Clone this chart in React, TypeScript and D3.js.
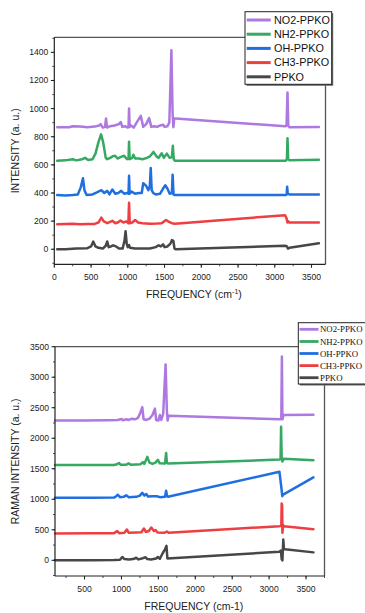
import React from "react";
import * as d3 from "d3";

type Pt = [number, number];

// ---------- Top chart (IR-like) data: [frequency, intensity] ----------
const TOP_NO2: Pt[] = [[40,868],[200,868],[250,875],[350,872],[450,868],[550,872],[610,880],[630,890],[660,865],[690,870],[704,930],[718,865],[760,875],[820,880],[880,890],[904,905],[925,870],[960,875],[1000,865],[1010,870],[1017,1000],[1025,870],[1045,880],[1080,865],[1120,900],[1177,948],[1210,870],[1250,890],[1290,932],[1320,870],[1360,875],[1400,870],[1440,880],[1484,885],[1500,870],[1540,875],[1565,900],[1593,1415],[1610,960],[1620,868],[1632,930],[1650,930],[3140,875],[3160,878],[3173,1115],[3183,880],[3200,868],[3600,870]];
const TOP_NH2: Pt[] = [[40,630],[150,632],[250,640],[300,632],[380,640],[420,650],[460,635],[520,640],[560,680],[600,760],[636,817],[665,760],[700,650],[720,640],[760,650],[800,662],[828,665],[860,645],[900,655],[950,665],[990,640],[1010,645],[1017,765],[1025,640],[1060,650],[1076,672],[1100,645],[1150,645],[1200,640],[1260,650],[1300,660],[1349,692],[1390,660],[1420,650],[1462,682],[1490,650],[1531,680],[1570,650],[1600,655],[1613,736],[1625,640],[1640,630],[3150,630],[3165,640],[3173,790],[3182,640],[3200,632],[3600,636]];
const TOP_OH: Pt[] = [[40,385],[150,383],[250,385],[320,390],[360,440],[390,505],[410,420],[440,385],[520,390],[580,405],[640,420],[680,400],[720,415],[750,390],[790,425],[830,395],[870,400],[910,415],[950,395],[990,400],[1010,395],[1017,522],[1025,395],[1050,410],[1100,395],[1150,400],[1190,400],[1210,470],[1250,450],[1280,420],[1300,450],[1312,578],[1325,420],[1345,400],[1380,390],[1440,395],[1490,440],[1510,455],[1540,430],[1570,395],[1600,400],[1610,530],[1622,390],[1640,385],[3150,385],[3162,390],[3168,445],[3176,395],[3200,390],[3600,390]];
const TOP_CH3: Pt[] = [[40,178],[150,180],[250,182],[350,178],[450,180],[550,180],[600,190],[640,225],[670,200],[720,185],[760,195],[790,202],[830,185],[870,192],[900,205],[940,190],[980,198],[1008,185],[1017,330],[1026,185],[1060,190],[1100,208],[1140,190],[1200,185],[1300,182],[1400,183],[1460,185],[1500,200],[1520,208],[1560,195],[1600,185],[1640,182],[3140,242],[3160,220],[3172,190],[3180,200],[3200,190],[3600,190]];
const TOP_PPKO: Pt[] = [[40,0],[150,0],[300,5],[450,8],[500,20],[530,55],[560,20],[600,10],[660,5],[700,25],[720,55],[740,15],[770,20],[800,28],[840,20],[880,5],[930,5],[955,60],[970,128],[985,40],[1000,15],[1017,30],[1030,10],[1100,5],[1200,5],[1300,5],[1380,15],[1420,28],[1450,20],[1480,35],[1500,15],[1540,20],[1580,40],[1600,65],[1620,60],[1635,5],[1650,0],[3140,25],[3165,20],[3180,5],[3200,10],[3600,42]];

// ---------- Bottom chart (Raman) data ----------
const BOT_NO2: Pt[] = [[100,2290],[500,2292],[800,2295],[950,2298],[1000,2315],[1020,2295],[1060,2310],[1100,2300],[1140,2320],[1180,2310],[1220,2330],[1250,2400],[1282,2510],[1300,2310],[1340,2300],[1380,2320],[1420,2380],[1453,2485],[1470,2300],[1500,2290],[1520,2380],[1540,2300],[1565,2400],[1598,3210],[1615,2450],[1625,2290],[1638,2370],[3150,2310],[3165,2320],[3173,3340],[3180,2310],[3195,2380],[3600,2385]];
const BOT_NH2: Pt[] = [[100,1560],[600,1562],[900,1562],[940,1575],[965,1595],[990,1565],[1060,1565],[1096,1588],[1130,1565],[1200,1570],[1260,1575],[1290,1610],[1310,1580],[1350,1695],[1380,1600],[1420,1580],[1460,1600],[1493,1645],[1520,1590],[1590,1585],[1605,1760],[1615,1600],[1630,1585],[3140,1650],[3155,1660],[3162,2190],[3170,1680],[3180,1620],[3195,1665],[3600,1640]];
const BOT_OH: Pt[] = [[100,1025],[600,1025],[900,1028],[930,1050],[951,1075],[980,1035],[1030,1040],[1065,1065],[1100,1035],[1200,1040],[1250,1060],[1282,1105],[1310,1060],[1336,1085],[1360,1045],[1420,1050],[1480,1050],[1520,1035],[1590,1040],[1605,1140],[1618,1050],[1630,1040],[3140,1450],[3165,1200],[3178,1050],[3190,1075],[3600,1360]];
const BOT_CH3: Pt[] = [[100,440],[600,442],[900,445],[943,478],[970,445],[1040,450],[1073,505],[1100,450],[1200,455],[1270,460],[1304,522],[1330,465],[1370,480],[1404,538],[1440,480],[1462,495],[1490,455],[1580,450],[1615,472],[1640,450],[3140,560],[3165,565],[3170,930],[3176,900],[3180,450],[3190,580],[3200,560],[3600,510]];
const BOT_PPKO: Pt[] = [[100,0],[600,2],[900,5],[980,10],[1011,55],[1040,20],[1100,15],[1160,20],[1200,42],[1230,15],[1290,35],[1327,50],[1350,20],[1400,15],[1470,30],[1493,55],[1520,25],[1560,120],[1590,180],[1610,238],[1622,30],[3140,140],[3160,160],[3170,20],[3180,0],[3192,340],[3200,200],[3215,180],[3600,130]];

const SERIES_NAMES = ["NO2-PPKO", "NH2-PPKO", "OH-PPKO", "CH3-PPKO", "PPKO"];
const SERIES_COLORS = ["#ad78e0", "#35a862", "#1f6fe0", "#ef3e42", "#474747"];
const TOP_DATA = [TOP_NO2, TOP_NH2, TOP_OH, TOP_CH3, TOP_PPKO];
const BOT_DATA = [BOT_NO2, BOT_NH2, BOT_OH, BOT_CH3, BOT_PPKO];

const TOP_X_TICKS = [0, 500, 1000, 1500, 2000, 2500, 3000, 3500];
const TOP_Y_TICKS = [0, 200, 400, 600, 800, 1000, 1200, 1400];
const BOT_X_TICKS = [500, 1000, 1500, 2000, 2500, 3000, 3500];
const BOT_Y_TICKS = [0, 500, 1000, 1500, 2000, 2500, 3000, 3500];

const SANS = "'Liberation Sans', Arial, sans-serif";
const SERIF = "'Liberation Serif', 'Times New Roman', serif";

interface PanelProps {
  data: Pt[][];
  xDomain: [number, number];
  yDomain: [number, number];
  left: number; right: number; top: number; bottom: number;
  xTicks: number[]; yTicks: number[];
  xMinorStep: number; yMinorStep: number;
  yTitle: string;
  xTitle: React.ReactNode;
}

function Panel(p: PanelProps) {
  const x = d3.scaleLinear().domain(p.xDomain).range([p.left, p.right]);
  const y = d3.scaleLinear().domain(p.yDomain).range([p.bottom, p.top]);
  const line = d3.line<Pt>().x(d => x(d[0])).y(d => y(d[1]));
  const xMinor = d3.range(Math.ceil(p.xDomain[0] / p.xMinorStep) * p.xMinorStep, p.xDomain[1] + 1, p.xMinorStep);
  const yMinor = d3.range(Math.ceil(p.yDomain[0] / p.yMinorStep) * p.yMinorStep, p.yDomain[1] + 1, p.yMinorStep);
  const cy = (p.top + p.bottom) / 2;
  const cx = (p.left + p.right) / 2;
  return (
    <g>
      <line x1={p.left} x2={p.right} y1={p.top} y2={p.top} stroke="#555" strokeWidth={1.3} />
      <line x1={p.right} x2={p.right} y1={p.top} y2={p.bottom} stroke="#555" strokeWidth={1.3} />
      {p.data.map((s, i) => (
        <path key={i} d={line(s) || ""} fill="none" stroke={SERIES_COLORS[i]} strokeWidth={2.5}
          strokeLinejoin="round" strokeLinecap="round" />
      ))}
      <line x1={p.left} x2={p.left} y1={p.top} y2={p.bottom} stroke="#222" strokeWidth={1.2} />
      <line x1={p.left} x2={p.right} y1={p.bottom} y2={p.bottom} stroke="#222" strokeWidth={1.2} />
      {xMinor.map(v => (
        <line key={"xm" + v} x1={x(v)} x2={x(v)} y1={p.bottom} y2={p.bottom + 2} stroke="#222" strokeWidth={0.8} />
      ))}
      {yMinor.map(v => (
        <line key={"ym" + v} x1={p.left - 2} x2={p.left} y1={y(v)} y2={y(v)} stroke="#222" strokeWidth={0.8} />
      ))}
      {p.xTicks.map(v => (
        <g key={"x" + v}>
          <line x1={x(v)} x2={x(v)} y1={p.bottom} y2={p.bottom + 3.5} stroke="#222" strokeWidth={1} />
          <text x={x(v)} y={p.bottom + 15.5} textAnchor="middle" fontSize={8.6} fontFamily={SANS} fill="#222">{v}</text>
        </g>
      ))}
      {p.yTicks.map(v => (
        <g key={"y" + v}>
          <line x1={p.left - 3.5} x2={p.left} y1={y(v)} y2={y(v)} stroke="#222" strokeWidth={1} />
          <text x={p.left - 6} y={y(v) + 3} textAnchor="end" fontSize={8.6} fontFamily={SANS} fill="#222">{v}</text>
        </g>
      ))}
      <text transform={`translate(${19},${cy}) rotate(-90)`} textAnchor="middle" fontSize={10.5} fontFamily={SANS} fill="#222">{p.yTitle}</text>
      <text x={cx + 4} y={p.bottom + 34} textAnchor="middle" fontSize={10.5} fontFamily={SANS} fill="#222">{p.xTitle}</text>
    </g>
  );
}

interface LegendProps { x: number; y: number; w: number; h: number; rowY: number[]; lineX: [number, number]; textX: number; fontSize: number; font: string; lineW: number; bold?: boolean }
function Legend(l: LegendProps) {
  return (
    <g>
      <rect x={l.x + 1.5} y={l.y + 1.5} width={l.w} height={l.h} fill="#666" />
      <rect x={l.x} y={l.y} width={l.w} height={l.h} fill="#fff" stroke="#222" strokeWidth={1} />
      {SERIES_NAMES.map((n, i) => (
        <g key={n}>
          <line x1={l.lineX[0]} x2={l.lineX[1]} y1={l.rowY[i]} y2={l.rowY[i]} stroke={SERIES_COLORS[i]} strokeWidth={l.lineW} />
          <text x={l.textX} y={l.rowY[i] + l.fontSize * 0.36} fontSize={l.fontSize} fontFamily={l.font} fill="#111"
            fontWeight={l.bold ? 600 : 400}>{n}</text>
        </g>
      ))}
    </g>
  );
}

export default function App() {
  return (
    <svg width={365} height={613} style={{ position: "absolute", left: 0, top: 0, background: "#fff" }}>
      <Panel data={TOP_DATA} xDomain={[0, 3690]} yDomain={[-107, 1507]} left={54.3} right={325.5} top={37.3} bottom={264.3}
        xTicks={TOP_X_TICKS} yTicks={TOP_Y_TICKS} xMinorStep={250} yMinorStep={100}
        yTitle="INTENSITY (a. u.)"
        xTitle={<>FREQUENCY (cm<tspan dy={-4} fontSize={7}>-1</tspan><tspan dy={4}>)</tspan></>} />
      <Legend x={245} y={11.7} w={86.7} h={72.6} rowY={[20, 34.2, 48.4, 62.6, 76.8]} lineX={[246.7, 270.7]} textX={274} fontSize={10.8} font={SANS} lineW={3} />
      <Panel data={BOT_DATA} xDomain={[100, 3750]} yDomain={[-257, 3500]} left={55} right={324.5} top={346.7} bottom={576}
        xTicks={BOT_X_TICKS} yTicks={BOT_Y_TICKS} xMinorStep={250} yMinorStep={250}
        yTitle="RAMAN INTENSITY (a. u.)" xTitle="FREQUENCY (cm-1)" />
      <Legend x={298.3} y={322.7} w={72} h={61.3} rowY={[329.3, 341.5, 353.5, 365.6, 377.7]} lineX={[299.5, 318.5]} textX={320} fontSize={8.8} font={SERIF} lineW={2.8} />
    </svg>
  );
}
